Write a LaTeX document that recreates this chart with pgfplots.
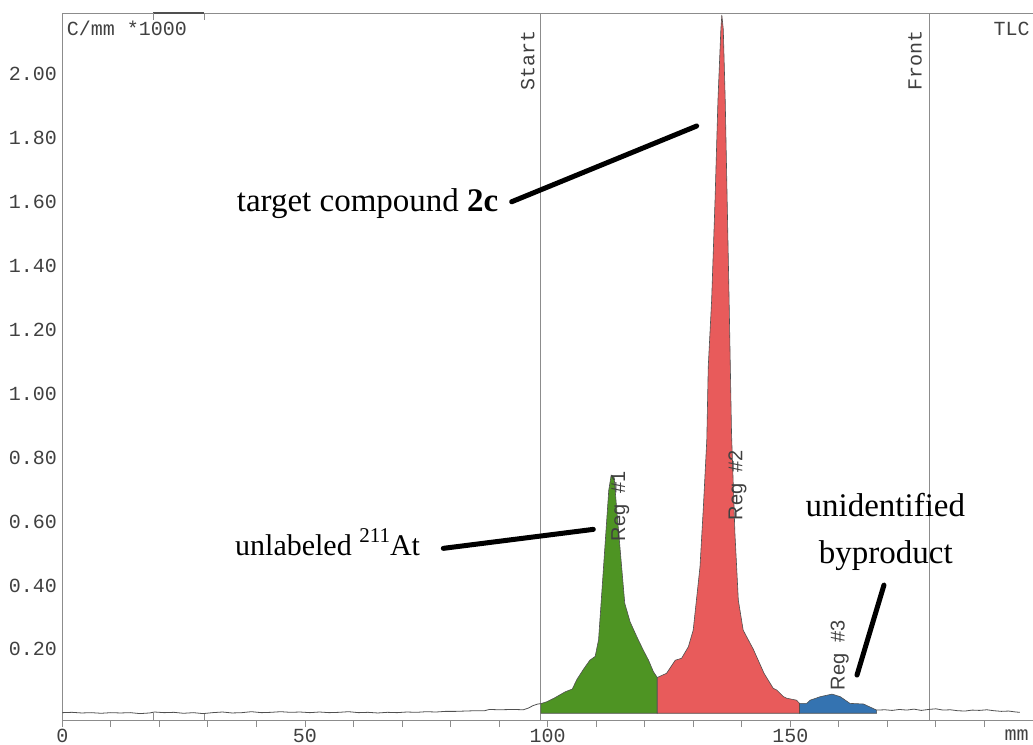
\documentclass[border=0pt]{standalone}
\usepackage{pgfplots}
\pgfplotsset{compat=1.18}
\usepackage{pgfplotstable}
\usepackage{fontspec}
\setmainfont{Liberation Serif}
\newfontfamily\monofont{Liberation Mono}
\newfontfamily\sansfont{Liberation Sans}
\usetikzlibrary{calc}

\definecolor{regone}{RGB}{78,148,35}
\definecolor{regtwo}{RGB}{232,91,91}
\definecolor{regthree}{RGB}{52,115,177}
\definecolor{tracec}{RGB}{80,80,80}
\definecolor{framec}{RGB}{140,140,140}
\definecolor{labelc}{RGB}{64,64,64}

% radio-TLC scan, counts per mm (x1000) against position on the plate
\pgfplotstableread{
x y
0 0.002
2 0.003
4 0.001
6 0.002
8 0.000
10 0.002
12 0.001
14 0.002
16 -0.001
18 0.001
19 0.004
21 0.002
23 0.003
25 0.000
27 0.002
29 -0.001
31 0.002
33 0.004
35 0.001
37 0.002
39 0.005
41 0.002
43 0.003
45 0.005
47 0.003
49 0.004
51 0.002
53 0.004
55 0.002
57 0.003
59 0.005
61 0.002
63 0.003
65 0.001
67 0.003
69 0.002
71 0.004
73 0.003
75 0.005
77 0.004
79 0.006
81 0.006
83 0.007
85 0.008
87 0.008
88 0.012
90 0.011
93 0.012
95 0.011
96 0.016
97 0.024
98 0.029
98.6 0.030
}\baseleft

\pgfplotstableread{
x y
98.6 0.030
99.8 0.036
101.3 0.047
103.6 0.067
105.1 0.076
106.0 0.105
107.4 0.138
108.7 0.166
109.8 0.178
110.5 0.230
111.2 0.385
111.9 0.542
112.6 0.698
113.1 0.745
113.7 0.740
114.2 0.646
114.9 0.521
115.9 0.344
117.0 0.286
118.4 0.239
119.7 0.198
120.8 0.166
121.8 0.130
122.6 0.112
}\regA

\pgfplotstableread{
x y
122.6 0.112
124.5 0.125
126.3 0.166
127.6 0.172
129.0 0.208
130.0 0.260
131.4 0.458
132.1 0.646
132.8 0.855
133.1 1.084
133.8 1.293
134.5 1.605
135.1 1.918
135.7 2.140
135.9 2.185
136.2 2.140
136.6 1.918
137.0 1.605
137.4 1.293
137.9 0.876
138.6 0.563
139.3 0.354
140.3 0.260
142.4 0.200
144.6 0.125
146.5 0.078
147.2 0.073
148.6 0.052
149.3 0.047
151.3 0.041
151.9 0.031
}\regB

\pgfplotstableread{
x y
151.9 0.031
153.4 0.031
154.1 0.041
156.2 0.052
158.6 0.060
160.3 0.052
162.3 0.031
165.1 0.029
167.8 0.010
}\regC

\pgfplotstableread{
x y
167.8 0.010
169.5 0.011
171 0.009
172.5 0.012
174 0.010
175.5 0.013
177 0.009
178.5 0.012
180 0.014
181.5 0.010
183 0.011
184.5 0.008
186 0.007
187.5 0.010
189 0.009
190.5 0.011
192 0.008
193.5 0.006
195 0.007
196.5 0.004
197.3 0.003
}\baseright

\begin{document}
\begin{tikzpicture}
\begin{axis}[
  scale only axis,
  width=970.6pt, height=706.7pt,
  xmin=0, xmax=200, ymin=-0.021, ymax=2.19,
  axis x line*=bottom, axis y line*=left,
  axis line style={framec, line width=0.8pt},
  clip=false,
  xtick={0,50,100,150},
  xticklabels={0,50,100,150},
  minor xtick={10,20,30,40,60,70,80,90,110,120,130,140,160,170,180,190},
  tick align=outside,
  major tick length=7pt, minor tick length=7pt,
  tick style={framec, line width=0.8pt},
  major y tick style={draw=none},
  ytick={0.2,0.4,0.6,0.8,1.0,1.2,1.4,1.6,1.8,2.0},
  yticklabels={0.20,0.40,0.60,0.80,1.00,1.20,1.40,1.60,1.80,2.00},
  ticklabel style={font=\monofont\fontsize{20}{20}\selectfont, text=labelc},
  xticklabel style={inner sep=0pt, yshift=-1.5pt},
  yticklabel style={xshift=5pt},
]
% frame top edge and plate marks
\draw[framec, line width=0.8pt] (rel axis cs:0,1) -- (rel axis cs:1,1);
\draw[tracec, line width=1.6pt] (axis cs:18.75,2.19) -- (axis cs:29.26,2.19);
\draw[framec, line width=0.8pt] (axis cs:18.75,2.19) -- (axis cs:18.75,2.169);
\draw[framec, line width=0.8pt] (axis cs:29.26,2.19) -- (axis cs:29.26,2.169);
\draw[framec, line width=0.8pt] (axis cs:18.75,-0.021) -- (axis cs:18.75,0.0);
\draw[framec, line width=0.8pt] (axis cs:29.26,-0.021) -- (axis cs:29.26,0.0);

% start and front lines
\draw[framec, line width=0.8pt] (axis cs:98.6,-0.021) -- (axis cs:98.6,2.19);
\draw[framec, line width=0.8pt] (axis cs:178.6,-0.021) -- (axis cs:178.6,2.19);
\node[rotate=90, anchor=south east, inner sep=0pt, text=labelc,
      font=\monofont\fontsize{20}{20}\selectfont]
  at ([xshift=-6pt, yshift=-16.7pt]axis cs:98.6,2.19) {Start};
\node[rotate=90, anchor=south east, inner sep=0pt, text=labelc,
      font=\monofont\fontsize{20}{20}\selectfont]
  at ([xshift=-7pt, yshift=-16.7pt]axis cs:178.6,2.19) {Front};

\node[anchor=base west, inner sep=0pt, text=labelc,
      font=\monofont\fontsize{20}{20}\selectfont]
  at ([xshift=4.4pt, yshift=-22.7pt]rel axis cs:0,1) {C/mm *1000};
\node[anchor=base east, inner sep=0pt, text=labelc,
      font=\monofont\fontsize{20}{20}\selectfont]
  at ([xshift=-3pt, yshift=-22.7pt]rel axis cs:1,1) {TLC};
\node[anchor=base east, inner sep=0pt, text=labelc,
      font=\monofont\fontsize{20}{20}\selectfont]
  at ([xshift=-4pt, yshift=-20pt]rel axis cs:1,0) {mm};

% regions of interest
\addplot[fill=regone, draw=tracec, line width=0.6pt] table {\regA} \closedcycle;
\addplot[fill=regtwo, draw=tracec, line width=0.6pt] table {\regB} \closedcycle;
\addplot[fill=regthree, draw=tracec, line width=0.6pt] table {\regC} \closedcycle;
\addplot[tracec, line width=0.8pt] table {\baseleft};
\addplot[tracec, line width=0.8pt] table {\baseright};

% region tags
\node[rotate=90, text=labelc, font=\sansfont\fontsize{20}{20}\selectfont]
  at (axis cs:114.98,0.648) {Reg~~\#1};
\node[rotate=90, text=labelc, font=\sansfont\fontsize{20}{20}\selectfont]
  at (axis cs:139.13,0.714) {Reg~~\#2};
\node[rotate=90, text=labelc, font=\sansfont\fontsize{20}{20}\selectfont]
  at (axis cs:160.19,0.182) {Reg~~\#3};

% peak assignments
\node[anchor=base west, inner sep=0pt, font=\fontsize{33}{33}\selectfont]
  at (axis cs:35.93,1.5694) {target compound \textbf{2c}};
\node[anchor=base west, inner sep=0pt, font=\fontsize{30}{30}\selectfont]
  at (axis cs:35.58,0.495) {unlabeled \raisebox{0.42em}{\fontsize{21}{21}\selectfont 211}At};
\node[anchor=base, inner sep=0pt, font=\fontsize{33}{33}\selectfont]
  at (axis cs:169.6,0.6148) {unidentified};
\node[anchor=base, inner sep=0pt, font=\fontsize{33}{33}\selectfont]
  at (axis cs:169.7,0.470) {byproduct};
\draw[black, line width=5pt, line cap=round] (axis cs:92.60,1.6004) -- (axis cs:130.72,1.8373);
\draw[black, line width=5pt, line cap=round] (axis cs:78.51,0.516) -- (axis cs:109.42,0.5754);
\draw[black, line width=5pt, line cap=round] (axis cs:163.75,0.1195) -- (axis cs:169.31,0.4011);
\end{axis}
\pgfresetboundingbox
\path ($(current axis.south west)+(-62.3pt,-24pt)$) rectangle ($(current axis.north east)+(0.1pt,13.3pt)$);
\end{tikzpicture}
\end{document}
